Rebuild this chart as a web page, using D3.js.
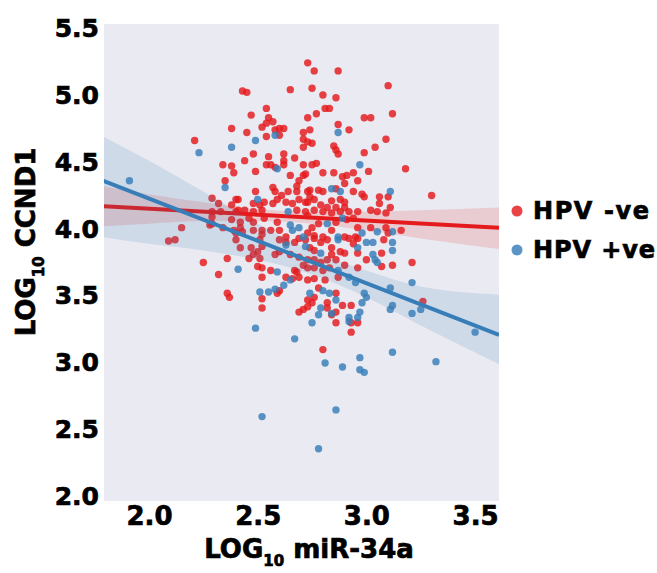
<!DOCTYPE html>
<html>
<head>
<meta charset="utf-8">
<script src="https://cdn.jsdelivr.net/npm/d3@7"></script>
<style>
  body { margin: 0; background: #fff; }
  svg { display: block; }
</style>
</head>
<body>
<svg id="scatter" width="657" height="573"></svg>
<script>
// tick values
const xTicks = [2.0, 2.5, 3.0, 3.5];
const yTicks = [2.0, 2.5, 3.0, 3.5, 4.0, 4.5, 5.0, 5.5];
const groups = ["HPV -ve", "HPV +ve"];

// HPV -ve samples [log10 miR-34a, log10 CCND1]
const hpvNeg = [
  [2.73,5.24],[2.76,5.18],[2.87,5.18],[2.43,5.03],[2.45,5.02],[2.65,5.04],[2.75,5.05],[3.10,5.07],[2.80,5.00],[2.86,4.98],
  [2.47,4.85],[2.81,4.90],[2.83,4.90],[2.54,4.90],[2.77,4.86],[2.73,4.83],[2.55,4.83],[2.57,4.80],[2.99,4.83],[3.02,4.83],
  [3.12,4.86],[2.87,4.78],[2.92,4.74],[2.52,4.76],[2.54,4.79],[2.58,4.74],[2.60,4.75],[2.62,4.75],[2.60,4.70],[2.38,4.75],
  [2.45,4.72],[2.71,4.72],[2.74,4.74],[2.54,4.69],[2.21,4.66],[2.71,4.67],[2.75,4.64],[2.71,4.61],[2.85,4.62],[2.86,4.59],
  [2.87,4.56],[3.09,4.67],[3.04,4.61],[2.99,4.57],[2.48,4.56],[2.44,4.51],[2.55,4.54],[2.62,4.56],[2.62,4.51],[2.67,4.53],
  [2.54,4.48],[2.56,4.48],[2.58,4.46],[2.62,4.48],[2.71,4.48],[2.75,4.48],[2.77,4.49],[3.18,4.45],[2.49,4.43],[2.65,4.40],
  [2.71,4.40],[2.80,4.42],[2.85,4.42],[2.94,4.42],[2.91,4.40],[2.89,4.39],[3.01,4.43],[2.96,4.36],[2.69,4.36],[2.90,4.34],
  [2.57,4.31],[2.58,4.28],[2.86,4.30],[2.94,4.28],[2.49,4.28],[3.30,4.25],[2.98,4.26],[2.99,4.24],[2.61,4.25],[2.64,4.28],
  [2.68,4.28],[2.74,4.29],[2.78,4.29],[2.80,4.28],[3.06,4.24],[3.10,4.24],[2.34,4.48],[2.38,4.47],[2.39,4.42],[2.35,4.36],
  [2.41,4.22],[2.73,4.65],[2.72,4.41],[2.74,4.24],[2.76,4.22],[2.73,4.20],[2.84,4.21],[2.88,4.22],[2.90,4.20],[3.06,4.19],
  [3.11,4.16],[2.79,4.18],[2.82,4.16],[2.86,4.16],[2.90,4.16],[2.76,4.14],[2.80,4.13],[2.84,4.12],[2.88,4.13],[2.92,4.13],
  [2.96,4.13],[3.02,4.14],[3.05,4.13],[3.09,4.12],[2.73,4.10],[2.78,4.04],[2.86,4.05],[2.91,4.07],[2.94,4.08],[2.96,4.01],
  [3.02,4.01],[3.09,4.01],[3.10,3.97],[2.95,3.94],[2.90,3.94],[2.76,3.95],[2.84,3.99],[2.75,4.01],[3.16,3.99],[2.68,4.32],
  [2.73,4.28],[2.59,4.22],[2.63,4.20],[2.48,4.19],[2.51,4.18],[2.53,4.20],[2.57,4.19],[2.66,4.19],[2.69,4.22],[2.72,4.20],
  [2.33,4.13],[2.40,4.13],[2.44,4.14],[2.48,4.13],[2.52,4.14],[2.68,4.14],[2.72,4.13],[2.38,4.07],[2.42,4.05],[2.46,4.08],
  [2.48,4.05],[2.53,4.08],[2.59,4.05],[2.29,4.13],[2.29,4.04],[2.48,3.99],[2.52,3.99],[2.56,3.99],[2.60,3.99],[2.63,3.94],
  [2.34,4.01],[2.39,3.99],[2.43,3.98],[2.52,3.96],[2.73,3.97],
  [2.40,3.92],[2.42,3.86],[2.47,3.86],[2.50,3.83],[2.52,3.87],[2.51,3.92],[2.36,3.78],[2.46,3.78],[2.48,3.81],[2.51,3.78],
  [2.58,3.81],[2.60,3.83],[2.60,3.92],[2.63,3.90],[2.67,3.90],[2.69,3.93],[2.72,3.92],[2.65,3.81],[2.69,3.79],[2.71,3.73],
  [2.67,3.69],[2.69,3.64],[2.50,3.72],[2.52,3.71],[2.56,3.69],[2.32,3.66],[2.52,3.64],[2.63,3.64],[2.66,3.63],[2.68,3.68],
  [2.60,3.54],[2.59,3.52],[2.36,3.52],[2.37,3.49],[2.52,3.48],[2.52,3.41],[2.69,3.38],[2.71,3.40],[2.73,3.47],
  [2.76,3.93],[2.80,3.94],[2.82,3.92],[2.79,3.90],[2.92,3.93],[2.94,3.89],[2.96,3.93],[3.08,3.92],[2.74,3.86],[2.76,3.84],
  [2.84,3.86],[2.84,3.81],[2.88,3.83],[2.90,3.82],[2.96,3.82],[3.07,3.82],[2.73,3.77],[2.76,3.77],[2.79,3.75],[2.82,3.77],
  [2.86,3.77],[2.90,3.73],[3.00,3.77],[3.07,3.72],[3.12,3.73],[2.73,3.71],[2.76,3.71],[2.80,3.69],[2.83,3.71],[2.87,3.64],
  [2.96,3.71],[2.76,3.63],[2.73,3.62],[2.81,3.62],[2.78,3.56],[2.86,3.52],[2.76,3.49],[2.82,3.45],[2.82,3.41],[2.89,3.43],
  [2.93,3.43],[2.86,3.38],[2.84,3.36],[2.96,3.30],[2.73,3.42],[2.75,3.45],[2.86,3.30],[2.93,3.30],[2.93,3.23],[2.80,3.10],
  [2.15,4.01],[2.09,3.91],[2.12,3.92],[2.28,4.03],[2.29,4.09],[2.25,3.75],[2.40,3.97],[2.42,4.01],[2.38,4.18],[2.40,4.22],
  [2.41,4.14],[2.29,4.23],[2.32,4.19],[3.21,3.75],[3.26,3.46]
];

// HPV +ve samples
const hpvPos = [
  [1.91,4.36],[2.23,4.57],[2.38,4.61],[2.49,4.66],[2.35,4.31],[2.58,4.70],[2.59,4.45],[2.50,4.22],[2.64,4.13],[2.65,4.03],
  [2.69,4.01],[2.66,3.99],[2.71,3.94],[2.87,4.72],[2.97,4.48],[2.84,4.30],[2.88,4.28],[3.11,4.28],[2.82,4.04],[2.89,4.08],
  [2.98,3.97],[3.05,3.98],[3.12,3.98],[2.87,3.94],[2.63,3.88],[2.72,3.87],[2.41,3.70],[2.59,3.68],[2.65,3.62],[2.62,3.58],
  [2.51,3.53],[2.55,3.53],[2.58,3.55],[2.49,3.26],[2.87,3.92],[3.00,3.90],[3.03,3.90],[3.12,3.90],[2.79,3.82],[2.96,3.86],
  [3.12,3.84],[3.03,3.81],[3.04,3.77],[3.05,3.75],[2.87,3.69],[2.92,3.64],[2.95,3.60],[2.80,3.54],[2.83,3.52],[2.74,3.52],
  [2.99,3.52],[3.00,3.49],[2.98,3.45],[2.86,3.47],[3.11,3.56],[3.12,3.43],[3.11,3.40],[2.79,3.41],[2.78,3.36],[2.97,3.38],
  [2.96,3.34],[2.92,3.34],[2.84,3.37],[2.75,3.30],[2.92,3.31],[2.67,3.18],[2.81,3.00],[2.89,2.97],[2.97,3.04],[2.97,2.95],
  [2.99,2.93],[3.12,3.08],[3.32,3.01],[3.50,3.23],[2.86,2.65],[2.52,2.60],[2.78,2.36],[3.21,3.60],[3.25,3.40],[3.21,3.37]
];

// fitted regression lines (ends of the plotted range)
const fitX = [1.79, 3.61];
const negFit = [4.17, 4.01];
const posFit = [4.36, 3.21];

// 95% confidence bands
const bandX = [1.79, 2.0, 2.25, 2.5, 2.75, 3.0, 3.25, 3.61];
const negUpper = [4.32, 4.26, 4.20, 4.15, 4.13, 4.13, 4.14, 4.16];
const negLower = [4.02, 4.04, 4.06, 4.06, 4.04, 3.99, 3.93, 3.85];
const posUpper = [4.69, 4.51, 4.28, 4.04, 3.84, 3.69, 3.57, 3.51];
const posLower = [3.94, 3.89, 3.84, 3.77, 3.66, 3.49, 3.28, 2.99];

const red = "#e41a1c";
const blue = "#377eb8";
const font = "DejaVu Sans";

const margin = { top: 24, right: 158, bottom: 72, left: 104 };
const width = 657 - margin.left - margin.right;
const height = 573 - margin.top - margin.bottom;

const svg = d3.select("#scatter")
  .append("g")
  .attr("transform", "translate(" + margin.left + "," + margin.top + ")");

const x = d3.scaleLinear().domain([1.793, 3.61]).range([0, width]);
const y = d3.scaleLinear().domain([1.97, 5.53]).range([height, 0]);

// seaborn-ish grey background
svg.append("rect")
  .attr("width", width)
  .attr("height", height)
  .attr("fill", "#eaeaf2");

svg.append("clipPath").attr("id", "plotClip")
  .append("rect").attr("width", width).attr("height", height);

const plot = svg.append("g").attr("clip-path", "url(#plotClip)");

const band = (upper, lower) => d3.area()
  .x((d, i) => x(bandX[i]))
  .y0((d, i) => y(lower[i]))
  .y1((d, i) => y(upper[i]))
  .curve(d3.curveMonotoneX)(bandX);

const fitLine = vals => d3.line()
  .x((d, i) => x(fitX[i]))
  .y((d, i) => y(vals[i]))(fitX);

// one layer per group: points, band, line
const layers = [
  { pts: hpvNeg, color: red, upper: negUpper, lower: negLower, fit: negFit },
  { pts: hpvPos, color: blue, upper: posUpper, lower: posLower, fit: posFit }
];

layers.forEach(l => {
  plot.append("g")
    .selectAll("circle")
    .data(l.pts)
    .enter()
    .append("circle")
    .attr("cx", d => x(d[0]))
    .attr("cy", d => y(d[1]))
    .attr("r", 3.7)
    .attr("fill", l.color)
    .attr("fill-opacity", 0.82);

  plot.append("path")
    .attr("d", band(l.upper, l.lower))
    .attr("fill", l.color)
    .attr("fill-opacity", 0.15);

  plot.append("path")
    .attr("d", fitLine(l.fit))
    .attr("fill", "none")
    .attr("stroke", l.color)
    .attr("stroke-width", 4);
});

// heavy black labels (stroke thickens the bold face)
const heavy = sel => sel
  .attr("font-family", font)
  .attr("font-weight", "bold")
  .attr("fill", "#000")
  .attr("stroke", "#000")
  .attr("stroke-width", 0.7);

// x axis
svg.append("g")
  .attr("transform", "translate(0," + height + ")")
  .call(d3.axisBottom(x).tickValues(xTicks).tickSize(0).tickPadding(6).tickFormat(d3.format(".1f")))
  .call(g => g.select(".domain").remove())
  .selectAll("text")
  .call(heavy)
  .attr("font-size", 26);

// y axis
svg.append("g")
  .call(d3.axisLeft(y).tickValues(yTicks).tickSize(0).tickPadding(5).tickFormat(d3.format(".1f")))
  .call(g => g.select(".domain").remove())
  .selectAll("text")
  .call(heavy)
  .attr("font-size", 25);

// axis titles
const xTitle = svg.append("text")
  .attr("x", 205)
  .attr("y", 534)
  .attr("text-anchor", "middle")
  .attr("font-size", 26)
  .call(heavy);
xTitle.append("tspan").text("LOG");
xTitle.append("tspan").attr("font-size", 15).attr("dy", 8).text("10");
xTitle.append("tspan").attr("dy", -8).text(" miR-34a");

const yTitle = svg.append("text")
  .attr("transform", "translate(-69," + 218 + ") rotate(-90)")
  .attr("text-anchor", "middle")
  .attr("font-size", 26)
  .call(heavy);
yTitle.append("tspan").text("LOG");
yTitle.append("tspan").attr("font-size", 15).attr("dy", 9).text("10");
yTitle.append("tspan").attr("dy", -9).text(" CCND1");

// legend
const legend = svg.append("g")
  .attr("transform", "translate(" + (width + 18) + ",187)");

legend.selectAll("circle")
  .data(layers)
  .enter()
  .append("circle")
  .attr("cx", 0)
  .attr("cy", (d, i) => i * 39)
  .attr("r", 5.5)
  .attr("fill", d => d.color)
  .attr("fill-opacity", 0.82);

legend.selectAll("text")
  .data(groups)
  .enter()
  .append("text")
  .attr("x", 16)
  .attr("y", (d, i) => i * 39 + 8)
  .attr("font-size", 24)
  .attr("textLength", (d, i) => i ? 122 : 116)
  .attr("lengthAdjust", "spacing")
  .call(heavy)
  .text(d => d);
</script>
</body>
</html>
